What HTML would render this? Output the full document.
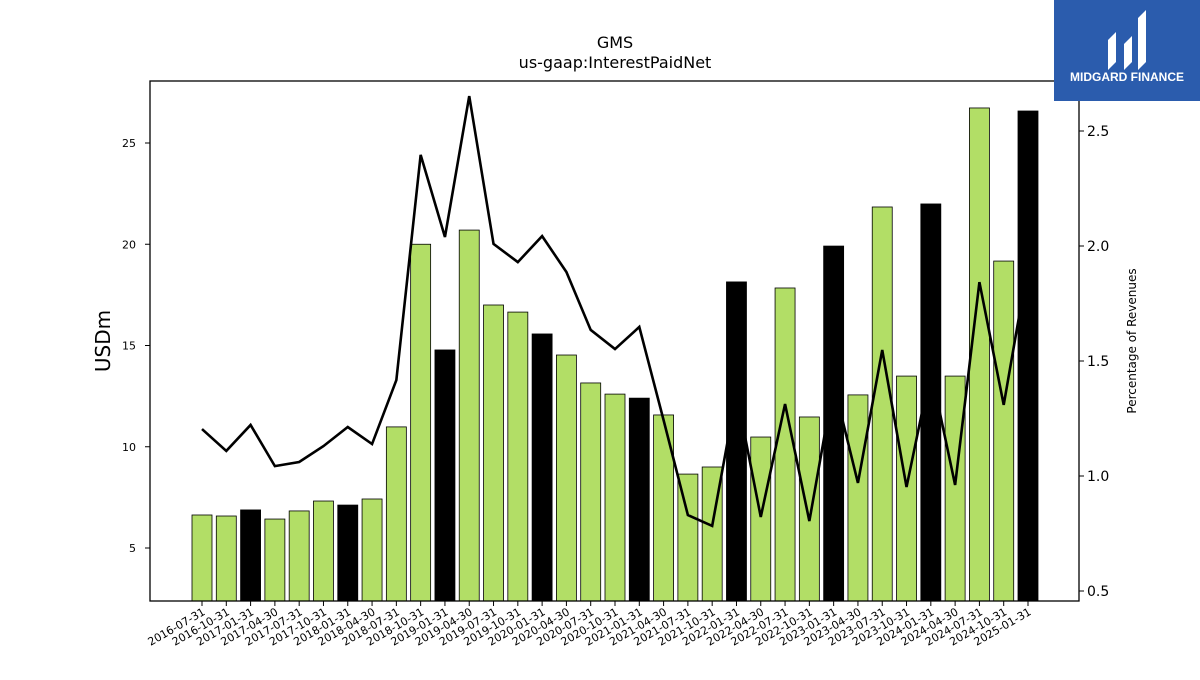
<!DOCTYPE html>
<html><head><meta charset="utf-8"><style>
body{margin:0;background:#fff;width:1200px;height:675px;overflow:hidden;font-family:"Liberation Sans","DejaVu Sans",sans-serif}
</style></head><body>
<svg id="chart" width="1200" height="675" xmlns="http://www.w3.org/2000/svg" font-family="DejaVu Sans, Liberation Sans, sans-serif">
<text x="615" y="48" text-anchor="middle" font-size="16">GMS</text>
<text x="615" y="68" text-anchor="middle" font-size="16">us-gaap:InterestPaidNet</text>
<g id="bars"></g><g id="lineg"></g>
<rect x="150" y="81" width="929" height="520" fill="none" stroke="#000" stroke-width="1.3"/>
<g id="axes"></g>
<text transform="translate(110,341) rotate(-90)" text-anchor="middle" font-size="20">USDm</text>
<text transform="translate(1136,341) rotate(-90)" text-anchor="middle" font-size="12">Percentage of Revenues</text>
<g>
<rect x="1054" y="0" width="146" height="101" fill="#2b5cad"/>
<path d="M1108 70 L1108 40 L1116 32 L1116 62 Z M1124 70 L1124 44 L1132 36 L1132 62 Z M1138 70 L1138 18 L1146 10 L1146 62 Z" fill="#fff"/>
<text x="1127" y="81" text-anchor="middle" font-size="12" font-weight="bold" fill="#fff" font-family="Liberation Sans, sans-serif">MIDGARD FINANCE</text>
</g>
</svg>
<script>
const categories=["2016-07-31","2016-10-31","2017-01-31","2017-04-30","2017-07-31","2017-10-31","2018-01-31","2018-04-30","2018-07-31","2018-10-31","2019-01-31","2019-04-30","2019-07-31","2019-10-31","2020-01-31","2020-04-30","2020-07-31","2020-10-31","2021-01-31","2021-04-30","2021-07-31","2021-10-31","2022-01-31","2022-04-30","2022-07-31","2022-10-31","2023-01-31","2023-04-30","2023-07-31","2023-10-31","2024-01-31","2024-04-30","2024-07-31","2024-10-31","2025-01-31"];
const interestPaid=[6.63,6.58,6.88,6.43,6.83,7.32,7.12,7.42,10.98,20.0,14.78,20.7,17.0,16.65,15.57,14.53,13.15,12.6,12.4,11.57,8.65,9.0,18.14,10.48,17.84,11.47,19.91,12.56,21.84,13.49,21.99,13.49,26.73,19.17,26.58];
const pctRevenues=[1.204,1.109,1.222,1.043,1.061,1.13,1.213,1.139,1.417,2.396,2.039,2.652,2.009,1.93,2.043,1.887,1.635,1.552,1.648,1.243,0.83,0.783,1.361,0.822,1.313,0.804,1.4,0.97,1.548,0.952,1.461,0.961,1.843,1.309,1.917];
const leftTicks=[5,10,15,20,25];
const rightTicks=[0.5,1.0,1.5,2.0,2.5];
const NS="http://www.w3.org/2000/svg";
const yL=v=>548-(v-5)*20.25;
const yR=v=>591-(v-0.5)*230;
const xC=i=>202+i*(1028-202)/(categories.length-1);
const bars=document.getElementById('bars'),axes=document.getElementById('axes'),lg=document.getElementById('lineg');
function mk(t,a,p){const e=document.createElementNS(NS,t);for(const k in a)e.setAttribute(k,a[k]);p.appendChild(e);return e;}
categories.forEach((c,i)=>{
  const black=c.endsWith("-01-31");
  const y=yL(interestPaid[i]);
  const r=mk('rect',{x:xC(i)-10,y:y,width:20,height:601-y,fill:black?'#000':'#b2de66',stroke:'#000','stroke-width':0.8},bars);
  
  
  const t=mk('line',{x1:xC(i),x2:xC(i),y1:601,y2:606,stroke:'#000'},axes);
  
  
  const l=mk('text',{x:xC(i)+4,y:614,'text-anchor':'end','font-size':11,transform:`rotate(-30 ${xC(i)+4} 614)`},axes);
  l.textContent=c;
  
  
});
const pl=mk('polyline',{points:pctRevenues.map((v,i)=>xC(i)+','+yR(v)).join(' '),fill:'none',stroke:'#000','stroke-width':2.6},lg);


leftTicks.forEach(v=>{
  const y=yL(v);
  mk('line',{x1:145,x2:150,y1:y,y2:y,stroke:'#000'},axes);
  const t=mk('text',{x:136,y:y+4,'text-anchor':'end','font-size':11},axes);
  t.textContent=v;
  
  
});
rightTicks.forEach(v=>{
  const y=yR(v);
  mk('line',{x1:1079,x2:1084,y1:y,y2:y,stroke:'#000'},axes);
  const t=mk('text',{x:1087,y:y+5,'font-size':14},axes);
  t.textContent=v.toFixed(1);
  
  
});
</script>
</body></html>
